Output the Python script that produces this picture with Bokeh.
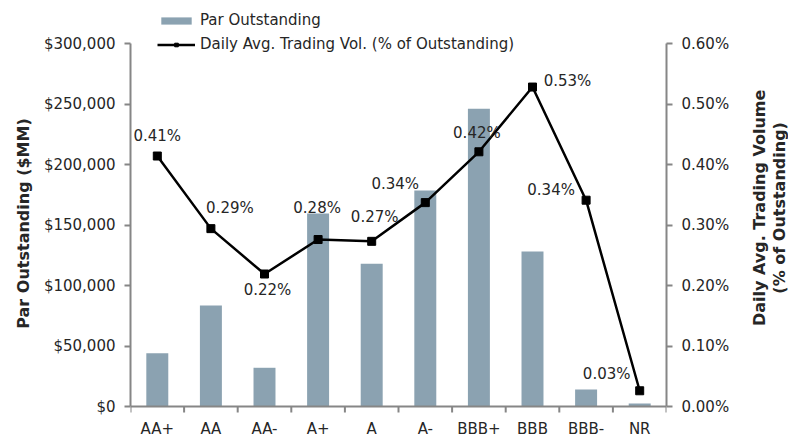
import math
from bokeh.plotting import figure
from bokeh.layouts import row
from bokeh.models import (Range1d, LinearAxis, FixedTicker, NumeralTickFormatter,
                          PrintfTickFormatter, Legend, LegendItem, ColumnDataSource,
                          Label, Span)
from bokeh.core.properties import value
from bokeh.embed import file_html
from bokeh.resources import INLINE

# ---- data ----
ratings = ["AA+", "AA", "AA-", "A+", "A", "A-", "BBB+", "BBB", "BBB-", "NR"]
par_outstanding = [44000, 83500, 32000, 159500, 118000, 178500, 246000, 128000, 14000, 2500]
trading_vol_pct = [0.414, 0.294, 0.219, 0.276, 0.273, 0.337, 0.421, 0.528, 0.341, 0.026]
left_ticks = [0, 50000, 100000, 150000, 200000, 250000, 300000]
right_ticks = [0.0, 0.1, 0.2, 0.3, 0.4, 0.5, 0.6]
left_max = 300000
right_max = 0.6
left_title = "Par Outstanding ($MM)"
right_title = "Daily Avg. Trading Volume\n(% of Outstanding)"

# label placement (screen-pixel offsets, layout only)
label_dx = [0, 19, 3, -1, 3, -30, -2, 35, -35, -33]
label_dy = [-20, -21, 16, -32, -24, -19, -19, -6, -10, -17]

FONT = "DejaVu Sans"
TXT = "#262626"
AX = "#868686"
BAR = "#8BA2B1"
FS = "15px"

# layout plan (pixels inside the main figure)
W1, W2, H = 750, 38, 436
LEFT_B, RIGHT_B, TOP_B, BOTTOM_B = 130, 84, 10, 0
AXIS_TOP = 43                      # y (px from top) of 300,000 / 0.60%
AXIS_BOTTOM = 406                  # y (px from top) of the zero line
axis_px = AXIS_BOTTOM - AXIS_TOP
below_px = H - BOTTOM_B - AXIS_BOTTOM
above_px = AXIS_BOTTOM - TOP_B
frame_h = H - TOP_B - BOTTOM_B
n = len(ratings)
ly = left_max / axis_px            # data units per pixel, left axis
ry = right_max / axis_px           # data units per pixel, right axis

xs = [i + 0.5 for i in range(n)]

p = figure(width=W1, height=H, output_backend="svg", toolbar_location=None,
           x_range=Range1d(0, n), y_range=Range1d(-below_px * ly, above_px * ly),
           min_border_left=LEFT_B, min_border_right=RIGHT_B,
           min_border_top=TOP_B, min_border_bottom=BOTTOM_B,
           x_axis_location=None)
p.extra_y_ranges = {"pct": Range1d(-below_px * ry, above_px * ry)}
p.outline_line_color = None
p.xgrid.visible = False
p.ygrid.visible = False
p.background_fill_color = None
p.border_fill_color = "white"

bars = p.vbar(x=xs, top=par_outstanding, width=0.41, fill_color=BAR, line_color=None)

# category axis: zero line, separator ticks and category names
p.add_layout(Span(location=0, dimension="width", line_color=AX, line_width=2))
sep = list(range(n + 1))
p.segment(x0=sep, y0=[0] * (n + 1), x1=sep, y1=[-6 * ly] * (n + 1),
          line_color=AX, line_width=2)
p.text(x=xs, y=[0] * n, text=ratings, y_offset=22, text_align="center",
       text_baseline="middle", text_font=value(FONT), text_font_size=value(FS),
       text_color=TXT)

src = ColumnDataSource(dict(x=xs, y=trading_vol_pct,
                            lab=[f"{v:.2f}%" for v in trading_vol_pct],
                            dx=label_dx, dy=label_dy))
ln = p.line("x", "y", source=src, y_range_name="pct", line_color="black", line_width=2.5)
mk = p.scatter("x", "y", source=src, y_range_name="pct", marker="square", size=8,
               fill_color="black", line_color="black")
p.text("x", "y", text="lab", source=src, y_range_name="pct", x_offset="dx", y_offset="dy",
       text_align="center", text_baseline="middle", text_font_size=value(FS),
       text_color=TXT, text_font=value(FONT))

# left axis
ya = p.yaxis[0]
ya.ticker = FixedTicker(ticks=left_ticks)
ya.formatter = NumeralTickFormatter(format="$0,0")
ya.axis_label = left_title
ya.bounds = (0, left_max)

# right axis
ra = LinearAxis(y_range_name="pct", ticker=FixedTicker(ticks=right_ticks),
                formatter=PrintfTickFormatter(format="%.2f%%"),
                bounds=(0, right_max))
p.add_layout(ra, "right")

for a in (ya, ra):
    a.axis_line_color = AX
    a.axis_line_width = 2
    a.major_tick_line_color = AX
    a.major_tick_line_width = 2
    a.major_tick_out = 6
    a.major_tick_in = 0
    a.minor_tick_line_color = None
    a.major_label_standoff = 9
    a.major_label_text_font = FONT
    a.major_label_text_font_size = FS
    a.major_label_text_color = TXT
ya.axis_label_text_font = FONT
ya.axis_label_text_font_size = "16px"
ya.axis_label_text_font_style = "bold"
ya.axis_label_text_color = TXT
ya.axis_label_standoff = 8

# legend inside the frame, above the axis tops
legend_h = 2 * 20 + 4
legend = Legend(items=[LegendItem(label="Par Outstanding", renderers=[bars]),
                       LegendItem(label="Daily Avg. Trading Vol. (% of Outstanding)", renderers=[ln, mk])],
                location=(27, frame_h - legend_h), orientation="vertical", margin=0, padding=0,
                spacing=4, glyph_width=38, glyph_height=9, label_height=20,
                label_standoff=5, border_line_color=None, background_fill_alpha=0,
                label_text_font=FONT, label_text_font_size=FS, label_text_color=TXT)
p.add_layout(legend)

# right-hand axis title in its own narrow panel, reading bottom-to-top
t = figure(width=W2, height=H, output_backend="svg", toolbar_location=None,
           x_range=Range1d(0, 1), y_range=Range1d(0, H),
           min_border=0, x_axis_location=None, y_axis_location=None)
t.outline_line_color = None
t.xgrid.visible = False
t.ygrid.visible = False
t.add_layout(Label(x=0.5, y=H - 202, text=right_title, angle=math.pi / 2,
                   text_align="center", text_baseline="middle", text_font=FONT,
                   text_font_size="16px", text_font_style="bold", text_color=TXT,
                   text_line_height=1.05))

layout = row(p, t, spacing=0)
open("out.html", "w").write(file_html(layout, INLINE))
